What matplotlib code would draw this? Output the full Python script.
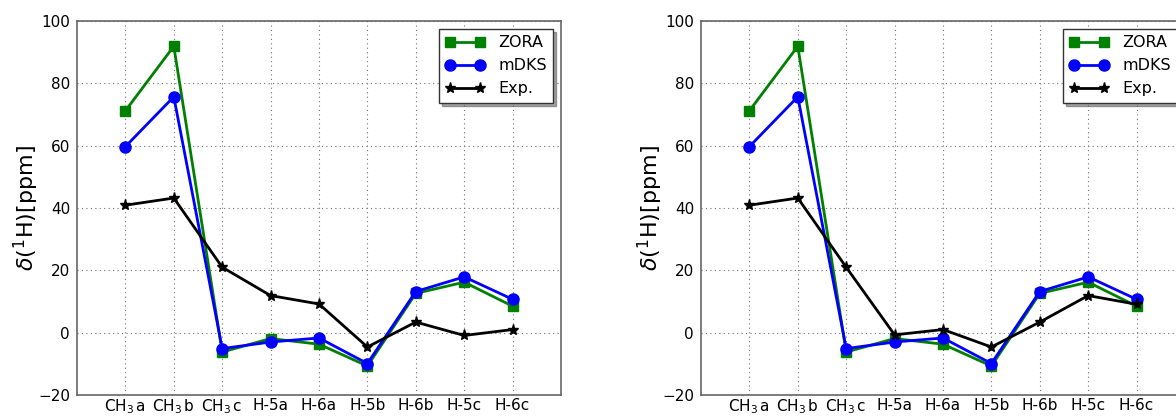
import matplotlib
matplotlib.use("Agg")
import matplotlib.pyplot as plt

plt.rcParams['mathtext.fontset'] = 'dejavusans'

# proton labels along the x axis
labels = [r'CH$_3\,$a', r'CH$_3\,$b', r'CH$_3\,$c', 'H-5a', 'H-6a', 'H-5b', 'H-6b', 'H-5c', 'H-6c']

# calculated shifts (same in both panels)
zora = [71.2, 91.9, -6.2, -1.9, -3.7, -10.7, 12.6, 16.2, 8.5]
mdks = [59.7, 75.7, -5.1, -3.0, -1.7, -9.9, 13.2, 17.9, 10.7]

# experimental shifts, two assignments
exp_left = [40.9, 43.2, 21.0, 11.9, 9.2, -4.6, 3.4, -0.9, 1.0]
exp_right = [40.9, 43.2, 21.0, -0.7, 1.0, -4.6, 3.4, 11.9, 9.1]

W, H = 1176, 417
fig = plt.figure(figsize=(W / 100, H / 100), dpi=100)

# axes boxes in pixels: left, top, right, bottom (right panel runs off the image)
boxes = [(77, 21, 561, 395), (701, 21, 1185, 395)]
exps = [exp_left, exp_right]

x = list(range(len(labels)))
for (l, t, r, b), exp in zip(boxes, exps):
    ax = fig.add_axes([l / W, (H - b) / H, (r - l) / W, (b - t) / H])
    ax.plot(x, zora, color='g', marker='s', markersize=7, markeredgecolor='g', linewidth=2, label='ZORA')
    ax.plot(x, mdks, color='b', marker='o', markersize=8, markeredgecolor='b', linewidth=2, label='mDKS')
    ax.plot(x, exp, color='k', marker='*', markersize=8, linewidth=2, label='Exp.')

    ax.set_xlim(-1, 9)
    ax.set_ylim(-20, 100)
    ax.set_xticks(x)
    ax.set_xticklabels(labels)
    ax.set_yticks(range(-20, 101, 20))
    ax.tick_params(direction='in', labelsize=11, length=0)
    ax.tick_params(axis='x', pad=2)
    ax.tick_params(axis='y', pad=5)
    ax.grid(True, color='0.45', linestyle=(0, (1, 3)), linewidth=0.8)
    for s in ax.spines.values():
        s.set_color('0.4')
        s.set_linewidth(1.2)
    ax.set_ylabel(r'$\delta(^{1}\mathrm{H})[\mathrm{ppm}]$', fontsize=16, labelpad=-2)

    leg = ax.legend(loc='upper right', numpoints=2, shadow=True, fancybox=False,
                    fontsize=11.5, handlelength=2.5, borderaxespad=0.5)
    leg.get_frame().set_edgecolor('0.2')

fig.savefig('out.png', dpi=100)
